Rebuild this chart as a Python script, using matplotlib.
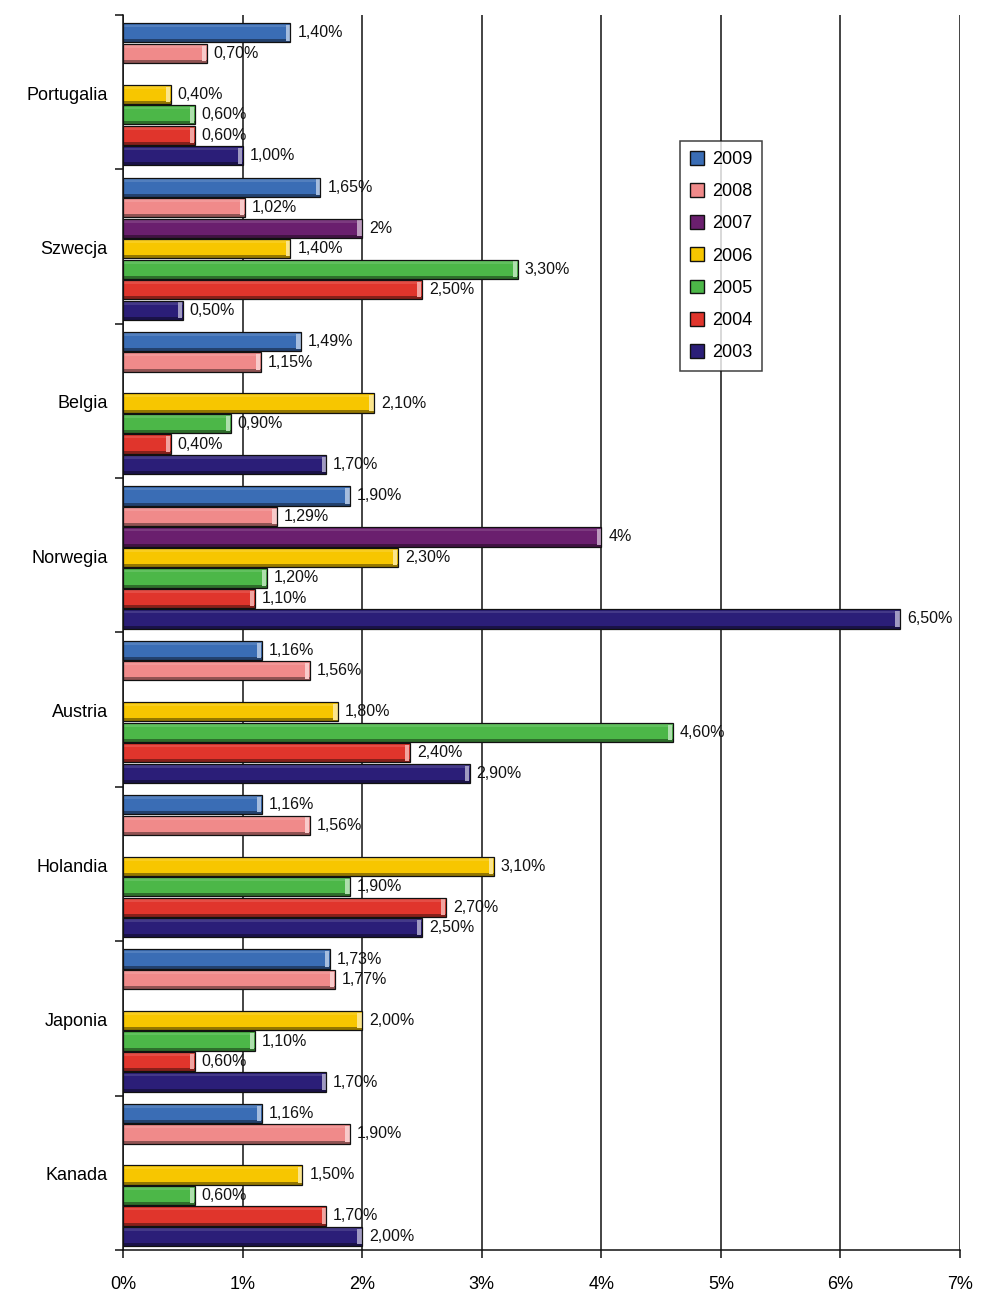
import numpy as np
import matplotlib.pyplot as plt
from matplotlib.patches import Patch

plt.rcParams['font.family'] = ['Liberation Sans', 'DejaVu Sans']

countries = ["Portugalia", "Szwecja", "Belgia", "Norwegia", "Austria", "Holandia", "Japonia", "Kanada"]
years = ["2009", "2008", "2007", "2006", "2005", "2004", "2003"]
colors = ["#3a6db5", "#f08a8a", "#6a1f6e", "#f7c600", "#4cb748", "#e0352c", "#2b1e78"]

# values in %, None = no bar
v2009 = [1.40, 1.65, 1.49, 1.90, 1.16, 1.16, 1.73, 1.16]
v2008 = [0.70, 1.02, 1.15, 1.29, 1.56, 1.56, 1.77, 1.90]
v2007 = [None, 2, None, 4, None, None, None, None]
v2006 = [0.40, 1.40, 2.10, 2.30, 1.80, 3.10, 2.00, 1.50]
v2005 = [0.60, 3.30, 0.90, 1.20, 4.60, 1.90, 1.10, 0.60]
v2004 = [0.60, 2.50, 0.40, 1.10, 2.40, 2.70, 0.60, 1.70]
v2003 = [1.00, 0.50, 1.70, 6.50, 2.90, 2.50, 1.70, 2.00]
series = [v2009, v2008, v2007, v2006, v2005, v2004, v2003]


def lab(v, yr):
    if yr == "2007":
        return f"{v:g}%"
    return f"{v:.2f}".replace(".", ",") + "%"


def lighter(c, f):
    r, g, b = plt.matplotlib.colors.to_rgb(c)
    return (r + (1 - r) * f, g + (1 - g) * f, b + (1 - b) * f)


def darker(c, f):
    r, g, b = plt.matplotlib.colors.to_rgb(c)
    return (r * f, g * f, b * f)


fig = plt.figure(figsize=(9.89, 13.13), dpi=100)
ax = fig.add_axes([0.1244, 0.048, 0.8463, 0.9406])

slot = 0.1328
h = 0.125
shift = 0.014
for j, (yr, vals, col) in enumerate(zip(years, series, colors)):
    ys, xs = [], []
    for i, v in enumerate(vals):
        if v is None:
            continue
        ys.append(i + (j - 3) * slot + shift)
        xs.append(v)
    ys = np.array(ys)
    xs = np.array(xs)
    ax.barh(ys, xs, height=h, color=col, zorder=3)
    # soft shading for the 3D look
    ax.barh(ys - h * 0.36, xs, height=h * 0.14, color=lighter(col, 0.12), zorder=3, lw=0)
    ax.barh(ys + h * 0.42, xs, height=h * 0.16, color=darker(col, 0.6), zorder=3, lw=0)
    ax.barh(ys, np.full(len(xs), 0.035), left=xs - 0.04, height=h * 0.8,
            color=lighter(col, 0.55), zorder=3, lw=0)
    ax.barh(ys, xs, height=h, fill=False, edgecolor="#111111", lw=0.9, zorder=4)
    for x, y in zip(xs, ys):
        ax.annotate(lab(x, yr), (x, y), xytext=(5, 0), textcoords="offset points",
                    va="center", ha="left", fontsize=11.5, color="#111111", zorder=5)

ax.set_xlim(0, 7)
ax.set_ylim(len(countries) - 0.5, -0.5)
ax.set_xticks(range(8))
ax.set_xticklabels([f"{i}%" for i in range(8)], fontsize=13)
ax.xaxis.grid(True, color="#111111", lw=1.1, zorder=1)
ax.set_axisbelow(True)

ax.set_yticks(np.arange(len(countries)) + shift / 2)
ax.set_yticklabels(countries, fontsize=13)
ax.tick_params(axis="y", which="major", length=0, pad=11)
ax.set_yticks(np.arange(len(countries) + 1) - 0.5, minor=True)
ax.tick_params(axis="y", which="minor", length=6, width=1.1, color="#111111")
ax.tick_params(axis="x", length=6, width=1.1, color="#111111", pad=13)

for s in ["top", "right"]:
    ax.spines[s].set_visible(False)
for s in ["left", "bottom"]:
    ax.spines[s].set_linewidth(1.1)
    ax.spines[s].set_color("#111111")

handles = [Patch(facecolor=c, edgecolor="#111111", label=y) for y, c in zip(years, colors)]
leg = ax.legend(handles=handles, loc="upper left", bbox_to_anchor=(0.6655, 0.898),
                fontsize=13, frameon=True, fancybox=False, edgecolor="#111111",
                handlelength=0.8, handleheight=0.8, handletextpad=0.4,
                labelspacing=0.83, borderpad=0.55, borderaxespad=0)
leg.get_frame().set_linewidth(1.1)
leg.set_zorder(6)

fig.savefig("out.png", dpi=100)
